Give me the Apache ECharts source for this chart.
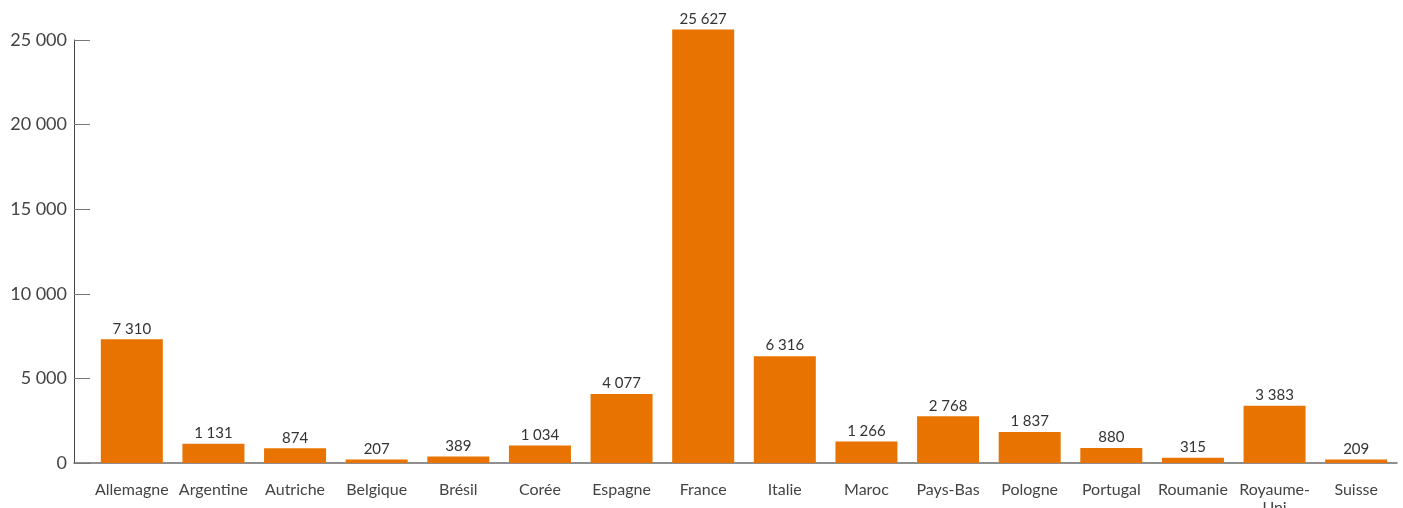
<!DOCTYPE html>
<html>
<head>
<meta charset="utf-8">
<script src="https://cdn.jsdelivr.net/npm/echarts@6/dist/echarts.min.js"></script>
<style>
  html, body { margin: 0; padding: 0; background: #fff; }
  #chart { width: 1403px; height: 508px; }
</style>
</head>
<body>
<div id="chart"></div>
<script>
// Countries and their values
const categories = ['Allemagne', 'Argentine', 'Autriche', 'Belgique', 'Brésil', 'Corée', 'Espagne', 'France',
  'Italie', 'Maroc', 'Pays-Bas', 'Pologne', 'Portugal', 'Roumanie', 'Royaume-Uni', 'Suisse'];
const values = [7310, 1131, 874, 207, 389, 1034, 4077, 25627, 6316, 1266, 2768, 1837, 880, 315, 3383, 209];
const yTicks = [0, 5000, 10000, 15000, 20000, 25000];

const FONT = 'Lato, "Noto Sans", sans-serif';
const BAR = '#E97300';

function fmt(n, sep) {
  return String(n).replace(/\B(?=(\d{3})+(?!\d))/g, sep);
}

const chart = echarts.init(document.getElementById('chart'), null, { renderer: 'canvas' });

chart.setOption({
  animation: false,
  backgroundColor: '#fff',
  grid: [
    // bars
    { left: 91, right: 6, top: 40, bottom: 45, containLabel: false, outerBoundsMode: 'none' },
    // visible value axis and baseline
    { left: 74, right: 6, top: 40, bottom: 45, containLabel: false, outerBoundsMode: 'none' }
  ],
  xAxis: [
    {
      gridIndex: 0,
      type: 'category',
      data: categories,
      axisLine: { show: false },
      axisTick: { show: false },
      axisLabel: {
        interval: 0,
        margin: 18,
        fontFamily: FONT,
        fontSize: 16,
        color: '#444',
        lineHeight: 18,
        formatter: v => v === 'Royaume-Uni' ? 'Royaume-\nUni' : v
      }
    },
    {
      gridIndex: 1,
      type: 'category',
      data: [''],
      axisLine: { show: true, lineStyle: { color: '#6b6b6b', width: 1.5 } },
      axisTick: { show: false },
      axisLabel: { show: false }
    }
  ],
  yAxis: [
    {
      gridIndex: 0,
      type: 'value',
      min: 0,
      max: yTicks[yTicks.length - 1],
      interval: 5000,
      show: false
    },
    {
      gridIndex: 1,
      type: 'value',
      min: 0,
      max: yTicks[yTicks.length - 1],
      interval: yTicks[1] - yTicks[0],
      axisLine: { show: true, lineStyle: { color: '#444', width: 1 } },
      axisTick: { show: true, inside: true, length: 16, lineStyle: { color: '#777', width: 1 } },
      splitLine: { show: false },
      axisLabel: {
        margin: 7,
        fontFamily: FONT,
        fontSize: 18,
        color: '#444',
        formatter: v => fmt(v, ' ')
      }
    }
  ],
  series: [
    {
      type: 'bar',
      xAxisIndex: 0,
      yAxisIndex: 0,
      data: values,
      barWidth: 62,
      clip: false,
      itemStyle: { color: BAR },
      label: {
        show: true,
        position: 'top',
        distance: 3,
        fontFamily: FONT,
        fontSize: 15,
        color: '#333',
        formatter: p => fmt(p.value, '\u202f')
      }
    }
  ]
});
</script>
</body>
</html>
